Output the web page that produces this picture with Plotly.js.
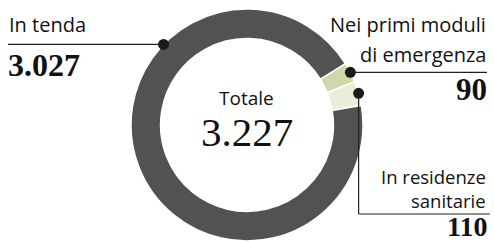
<!DOCTYPE html>
<html><head><meta charset="utf-8">
<script src="https://cdn.plot.ly/plotly-3.0.1.min.js"></script>
<style>html,body{margin:0;padding:0;background:#fff;overflow:hidden}#chart{width:494px;height:242px}</style>
</head><body><div id="chart"></div>
<script>
const categories = ["Nei primi moduli di emergenza", "In residenze sanitarie", "In tenda"];
const values = [90, 110, 3027];
const sliceColors = ["#d3d5ab", "#ecedd9", "#525252"];
const labelLines = [["Nei primi moduli", "di emergenza"], ["In residenze", "sanitarie"], ["In tenda"]];
const valueLabels = ["90", "110", "3.027"];
const totalTitle = "Totale";
const totalLabel = "3.227";

const W = 494, H = 242;
const cx = 247, cy = 125, R = 116;
const rotation = 58;
const X = x => x / W;
const Y = y => 1 - y / H;
const sum = values.reduce((a, b) => a + b, 0);

// mid angles of each slice (clockwise from 12 o'clock)
const mids = [];
let acc = rotation;
values.forEach(v => { const span = v / sum * 360; mids.push(acc + span / 2); acc += span; });
const tendaAngle = 314; // where the leader touches the big slice
function pt(angleDeg) {
  const a = angleDeg * Math.PI / 180;
  return [cx + R * Math.sin(a), cy - R * Math.cos(a)];
}
const pMod = pt(mids[0]);
const pRes = pt(mids[1]);
const pTen = pt(tendaAngle);

const lineStyle = {color: "#222", width: 1.2};
const dotR = 5.5;
function dot(p) {
  return {type: "circle", xref: "paper", yref: "paper",
    x0: X(p[0] - dotR), x1: X(p[0] + dotR), y0: Y(p[1] + dotR), y1: Y(p[1] - dotR),
    fillcolor: "#1a1a1a", line: {width: 0}};
}
function seg(x0, y0, x1, y1) {
  return {type: "line", xref: "paper", yref: "paper", x0: X(x0), y0: Y(y0), x1: X(x1), y1: Y(y1), line: lineStyle};
}
const shapes = [
  seg(8, pTen[1], pTen[0], pTen[1]),
  seg(pMod[0], pMod[1], 487, pMod[1]),
  seg(pRes[0], pRes[1], pRes[0], 214),
  seg(pRes[0], 214, 490, 214),
  dot(pTen), dot(pMod), dot(pRes)
];

const sans = "Open Sans, sans-serif";
const serif = "Liberation Serif, serif";
function ann(text, x, y, xanchor, font) {
  return {text: text, x: X(x), y: Y(y), xref: "paper", yref: "paper", xanchor: xanchor, yanchor: "middle",
    showarrow: false, font: font};
}
const labFont = {family: sans, size: 20, color: "#111"};
const numFont = {family: serif, size: 32, color: "#111"};
const annotations = [
  ann(labelLines[2][0], 7, 25, "left", labFont),
  ann("<b>" + valueLabels[2] + "</b>", 6, 65, "left", numFont),
  ann(labelLines[0][0], 488, 25, "right", labFont),
  ann(labelLines[0][1], 488, 54, "right", labFont),
  ann("<b>" + valueLabels[0] + "</b>", 489, 89, "right", {family: serif, size: 31, color: "#111"}),
  ann(labelLines[1][0], 488, 176, "right", {family: sans, size: 18.5, color: "#111"}),
  ann(labelLines[1][1], 488, 200, "right", {family: sans, size: 18.5, color: "#111"}),
  ann("<b>" + valueLabels[1] + "</b>", 489, 226, "right", {family: serif, size: 28, color: "#111"}),
  ann(totalTitle, cx - 1, 98, "center", {family: sans, size: 19, color: "#111"}),
  ann(totalLabel, cx, 132, "center", {family: serif, size: 41, color: "#111"})
];

const data = [{
  type: "pie", labels: categories, values: values, sort: false, direction: "clockwise",
  rotation: rotation, hole: 0.745, textinfo: "none", hoverinfo: "label+value",
  marker: {colors: sliceColors, line: {color: "#ffffff", width: 1.5}},
  domain: {x: [X(cx - R), X(cx + R)], y: [Y(cy + R), Y(cy - R)]},
  showlegend: false
}];
const layout = {
  width: W, height: H, margin: {l: 0, r: 0, t: 0, b: 0},
  paper_bgcolor: "#fff", showlegend: false, shapes: shapes, annotations: annotations
};
Plotly.newPlot("chart", data, layout, {staticPlot: true, displayModeBar: false});
</script></body></html>
